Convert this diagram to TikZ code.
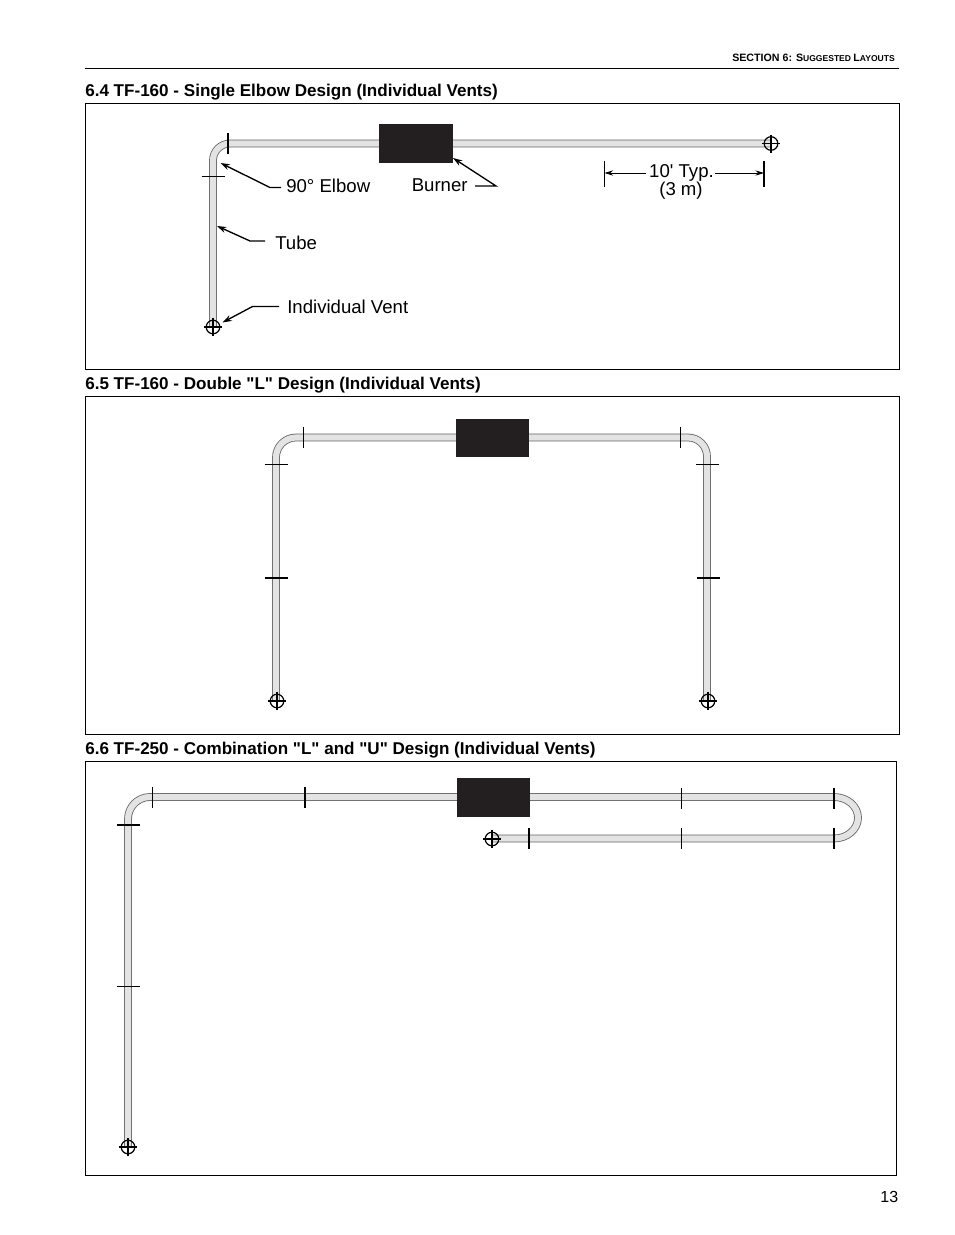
\documentclass[tikz,border=0pt]{standalone}
\usepackage{fontspec}
\setmainfont[Ligatures=TeXOff]{Liberation Sans}
\usetikzlibrary{arrows.meta,calc}
\tikzset{
  tube/.style={draw=black!62,double=black!11,line width=.6pt,double distance=4.6pt},
  frame/.style={draw=black,line width=.8pt},
  burner/.style={draw=none,fill=burnerblack,rectangle,inner sep=0pt,minimum width=55pt,minimum height=29pt},
  ventc/.style={draw=black,circle,line width=.9pt,inner sep=0pt,minimum size=10.2pt},
  vcross/.style={draw=black,line width=.9pt},
  thick tick/.style={draw=black,line width=1.15pt},
  thin tick/.style={draw=black,line width=.6pt},
  leader/.style={draw=black,line width=1pt,-{Stealth[length=7pt,width=4.6pt]}},
  dimline/.style={draw=black,line width=.6pt,-{Stealth[length=6.5pt,width=4pt]}},
  lab/.style={anchor=west,inner sep=0pt,font=\fontsize{13.95pt}{14pt}\selectfont},
  head/.style={anchor=west,inner sep=0pt,font=\fontsize{12.8pt}{14pt}\selectfont\bfseries},
}
\definecolor{burnerblack}{HTML}{231F20}
\newcommand{\ventat}[3]{%
  \node[ventc] (#1) at (#2,#3) {};
  \draw[vcross] ($(#1)+(-9,0)$) -- ($(#1)+(9,0)$);
  \draw[vcross] ($(#1)+(0,-9)$) -- ($(#1)+(0,9)$);
}
\newcommand{\vtick}[4]{\draw[#1] (#2,#3-10.5) -- (#2,#3+10.5);}
\newcommand{\htick}[4]{\draw[#1] (#2-11.5,#3) -- (#2+11.5,#3);}
\begin{document}
\begin{tikzpicture}[x=.75pt,y=-.75pt]
\useasboundingbox (0,0) rectangle (954,1235);
\fill[white] (0,0) rectangle (954,1235);
% header
\node[anchor=east,inner sep=0pt,font=\bfseries] (sec) at (895,57.5) {\fontsize{8pt}{8pt}\selectfont SECTION 6: S\fontsize{6.4pt}{8pt}\selectfont UGGESTED \fontsize{8pt}{8pt}\selectfont L\fontsize{6.4pt}{8pt}\selectfont AYOUTS};
\draw[line width=.8pt] (85,68.5) -- (898.5,68.5);
\node[anchor=east,inner sep=0pt,font=\fontsize{12pt}{12pt}\selectfont] (pg) at (898.5,1197) {13};
% headings and frames
\node[head] (h1) at (85,92.5) {6.4 TF-160 - Single Elbow Design (Individual Vents)};
\draw[frame] (85.5,103.5) rectangle (899.5,369.5);
\node[head] (h2) at (85,385.5) {6.5 TF-160 - Double "L" Design (Individual Vents)};
\draw[frame] (85.5,396.5) rectangle (899.5,734.5);
\node[head] (h3) at (85,750.5) {6.6 TF-250 - Combination "L" and "U" Design (Individual Vents)};
\draw[frame] (85.5,761.5) rectangle (896.5,1175.5);
% ---- 6.4
\draw[tube] (771,143.5) -- (230,143.5) arc[start angle=-90,end angle=-180,radius=17] -- (213,327);
\node[burner] (b1) at (416,143.5) {};
\ventat{v1a}{213}{327}
\ventat{v1b}{771}{143.5}
\vtick{thick tick}{228}{143.5}{}
\htick{thin tick}{213}{176}{}
\node[lab] (elbow) at (286,186) {90° Elbow};
\node[lab] (burn) at (411.5,185) {Burner};
\node[lab] (tubel) at (275,243) {Tube};
\node[lab] (ventl) at (287,307) {Individual Vent};
\coordinate (e1) at (281,187.5);
\coordinate (e2) at (270,187.5);
\coordinate (e3) at (220.5,163);
\draw[leader] (e1) -- (e2) -- (e3);
\coordinate (u1) at (475,186);
\coordinate (u2) at (496,186);
\coordinate (u3) at (453,158);
\draw[leader] (u1) -- (u2) -- (u3);
\coordinate (t1) at (265,241);
\coordinate (t2) at (250,241);
\coordinate (t3) at (217,226);
\draw[leader] (t1) -- (t2) -- (t3);
\coordinate (w1) at (279,306.5);
\coordinate (w2) at (252.5,306.5);
\coordinate (w3) at (222.5,322.5);
\draw[leader] (w1) -- (w2) -- (w3);
\node[inner sep=0pt,font=\fontsize{13.95pt}{14pt}\selectfont] (dimt) at (681.5,173) {10' Typ.};
\node[inner sep=0pt,font=\fontsize{13.95pt}{14pt}\selectfont] (dimm) at (681,191) {(3 m)};
\coordinate (dl) at (604.5,173);
\coordinate (dr) at (764,173);
\draw[thin tick,line width=.8pt] (604.5,161) -- (604.5,187);
\draw[thin tick,line width=.9pt] (764,161) -- (764,187);
\draw[dimline] (dimt.west) ++(-3,0) -- (dl);
\draw[dimline] (dimt.east) ++(1,0) -- (dr);
% ---- 6.5
\draw[tube] (276,701) -- (276,457.5) arc[start angle=180,end angle=270,radius=20] -- (688,437.5) arc[start angle=-90,end angle=0,radius=19] -- (707,701);
\node[burner] (b2) at (492.5,438) {};
\ventat{v2a}{277}{701}
\ventat{v2b}{708}{701}
\vtick{thick tick}{303.5}{437.5}{}
\vtick{thin tick}{680.5}{437.5}{}
\htick{thin tick}{276}{464}{}
\htick{thin tick}{707.5}{464}{}
\htick{thick tick}{276}{578}{}
\htick{thick tick}{708}{578}{}
% ---- 6.6
\draw[tube] (128,1147) -- (128,819) arc[start angle=180,end angle=270,radius=22] -- (834,797) arc[start angle=-90,end angle=90,x radius=24,y radius=20.75] -- (492,838.5);
\node[burner] (b3) at (493.5,797.5) {};
\ventat{v3a}{128}{1147}
\ventat{v3b}{492}{839}
\vtick{thin tick}{152.5}{797.5}{}
\vtick{thick tick}{305}{797.5}{}
\vtick{thin tick}{681.5}{798}{}
\vtick{thick tick}{834}{798}{}
\vtick{thick tick}{529}{838.5}{}
\vtick{thin tick}{681.5}{838.5}{}
\vtick{thick tick}{834}{838.5}{}
\htick{thick tick}{128.5}{825}{}
\htick{thin tick}{128.5}{986}{}
\end{tikzpicture}
\end{document}
